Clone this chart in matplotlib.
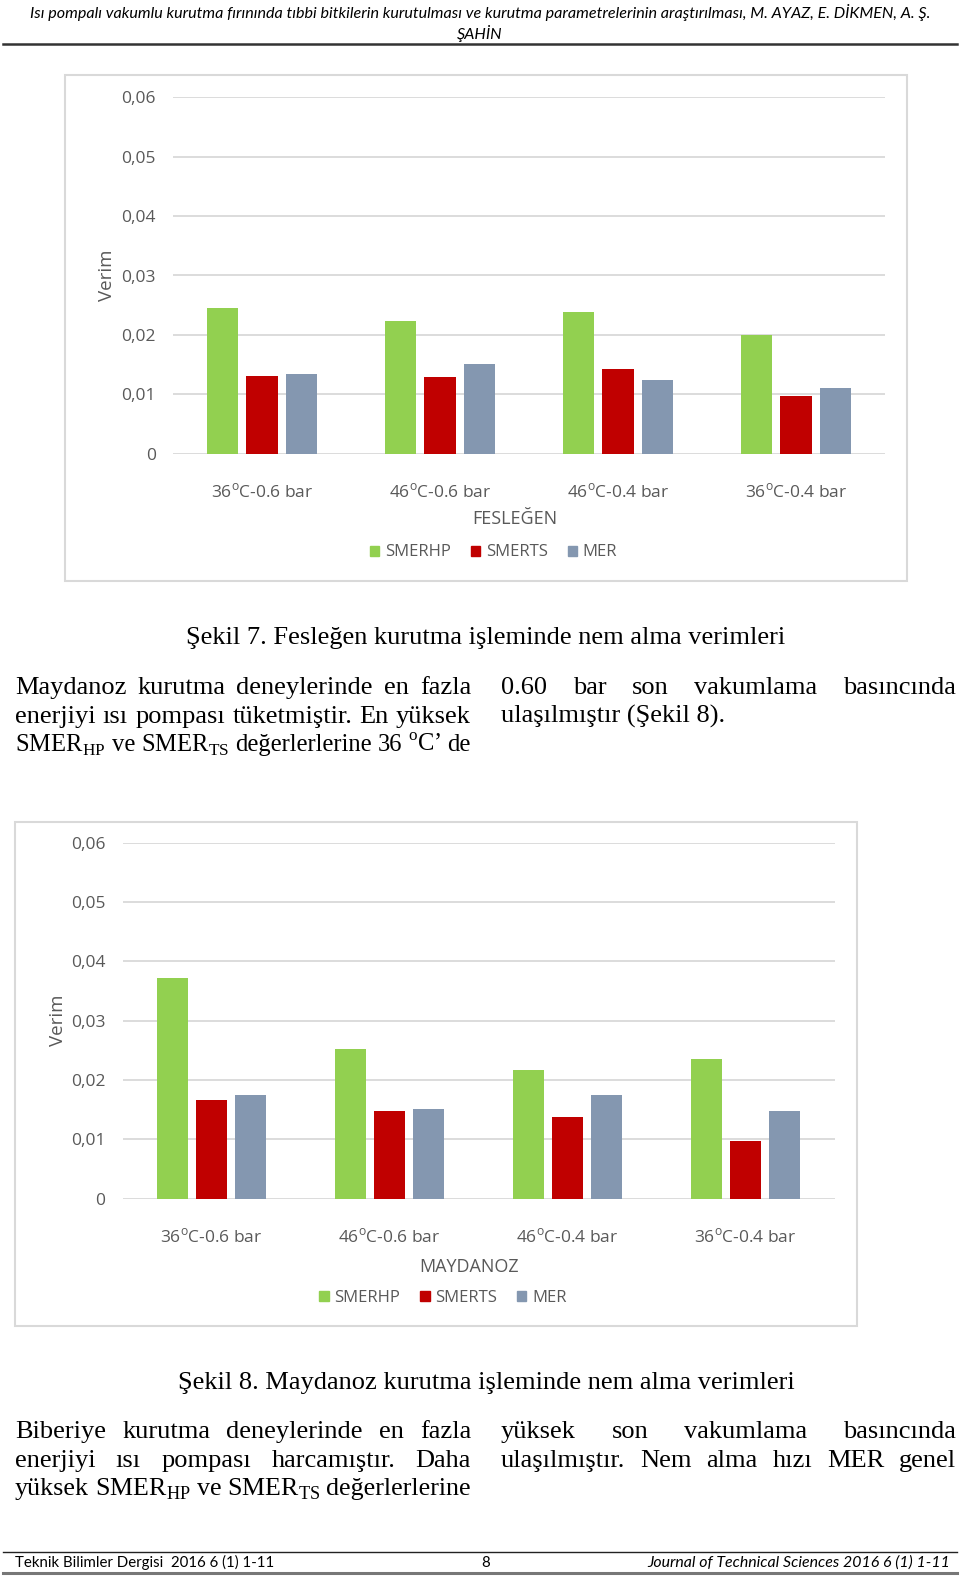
import numpy as np
import matplotlib.pyplot as plt
from matplotlib.patches import Rectangle, Patch

W, H = 960, 1577

categories = ['36$^{\\mathsf{o}}$C-0.6 bar', '46$^{\\mathsf{o}}$C-0.6 bar',
              '46$^{\\mathsf{o}}$C-0.4 bar', '36$^{\\mathsf{o}}$C-0.4 bar']
series = ['SMERHP', 'SMERTS', 'MER']
colors = ['#92d050', '#c00000', '#8497b0']

# Şekil 7 - Fesleğen
feslegen_smerhp = [0.0245, 0.0223, 0.0238, 0.0200]
feslegen_smerts = [0.0130, 0.0129, 0.0143, 0.0097]
feslegen_mer = [0.0134, 0.0150, 0.0124, 0.0110]
# Şekil 8 - Maydanoz
maydanoz_smerhp = [0.0372, 0.0252, 0.0217, 0.0235]
maydanoz_smerts = [0.0167, 0.0147, 0.0138, 0.0097]
maydanoz_mer = [0.0175, 0.0151, 0.0174, 0.0147]

y_ticks = [0, 0.01, 0.02, 0.03, 0.04, 0.05, 0.06]
y_tick_labels = ['0', '0,01', '0,02', '0,03', '0,04', '0,05', '0,06']

plt.rcParams['mathtext.fontset'] = 'custom'
plt.rcParams['mathtext.rm'] = 'Liberation Serif'
plt.rcParams['mathtext.sf'] = 'Open Sans'

fig = plt.figure(figsize=(W / 100, H / 100), dpi=100)

def fx(x):
    return x / W

def fy(y):
    return 1 - y / H

def justify(words, x0, x1, y, min_gap=5, **kw):
    texts = [fig.text(fx(x0), fy(y), w, va='baseline', **kw) for w in words]
    r = fig.canvas.get_renderer()
    size = kw.get('fontsize', 12)
    while True:
        widths = [t.get_window_extent(r).width for t in texts]
        gap = (x1 - x0 - sum(widths)) / max(len(words) - 1, 1)
        if gap >= min_gap or size < 8:
            break
        size -= 0.25
        for t in texts:
            t.set_fontsize(size)
    x = x0
    for t, wd in zip(texts, widths):
        t.set_x(fx(x))
        x += wd + gap

GRAY = '#595959'
CHART_FONT = 'Open Sans'

def draw_chart(left, top, box, values, xlabel, ylab_x, xlab_xy, leg_xy):
    fig.patches.append(Rectangle((fx(box[0]), fy(box[3])), (box[2] - box[0]) / W,
                                 (box[3] - box[1]) / H, transform=fig.transFigure,
                                 fill=False, edgecolor='#d9d9d9', lw=1.5))
    ax = fig.add_axes([fx(left), fy(top + 356), 712 / W, 356 / H])
    x = np.arange(len(categories))
    for i, (vals, name, c) in enumerate(zip(values, series, colors)):
        ax.bar(x + (i - 1) * 0.22, vals, width=0.175, color=c, label=name, zorder=3)
    ax.set_xlim(-0.5, 3.5)
    ax.set_ylim(0, 0.06)
    ax.set_yticks(y_ticks, y_tick_labels)
    ax.set_xticks(x, categories)
    ax.grid(axis='y', color='#d9d9d9', lw=1.3, zorder=0)
    for s in ax.spines.values():
        s.set_visible(False)
    ax.tick_params(length=0, colors=GRAY, labelsize=12.5)
    ax.tick_params(axis='y', pad=12.5)
    ax.tick_params(axis='x', pad=21)
    for lab in ax.get_xticklabels() + ax.get_yticklabels():
        lab.set_fontfamily(CHART_FONT)
    ax.set_ylabel('Verim', fontsize=13.5, color=GRAY, family=CHART_FONT)
    ax.yaxis.set_label_coords(ylab_x, 0.5)
    ax.set_xlabel(xlabel, fontsize=13, color=GRAY, family=CHART_FONT)
    ax.xaxis.set_label_coords(*xlab_xy)
    handles = [Patch(color=c, label=n) for c, n in zip(colors, series)]
    ax.legend(handles=handles, ncol=3, frameon=False, loc='center',
              bbox_to_anchor=leg_xy, handlelength=0.55, handleheight=0.55,
              handletextpad=0.35, columnspacing=1.2,
              prop={'family': CHART_FONT, 'size': 12}, labelcolor=GRAY)
    return ax

draw_chart(173, 97.5, (65.4, 75.4, 907, 581),
           [feslegen_smerhp, feslegen_smerts, feslegen_mer], 'FESLEĞEN',
           -0.0805, (0.48, -0.16), (0.45, -0.278))
draw_chart(122.7, 842.6, (15.1, 821.5, 856.7, 1326.3),
           [maydanoz_smerhp, maydanoz_smerts, maydanoz_mer], 'MAYDANOZ',
           -0.078, (0.486, -0.168), (0.45, -0.278))

# header
hkw = dict(family='Lato', style='italic', fontsize=11.65, ha='center', va='baseline')
fig.text(fx(480), fy(18), 'Isı pompalı vakumlu kurutma fırınında tıbbi bitkilerin kurutulması '
         've kurutma parametrelerinin araştırılması, M. AYAZ, E. DİKMEN, A. Ş.', **hkw)
fig.text(fx(480), fy(38.5), 'ŞAHİN', **hkw)
fig.add_artist(plt.Line2D([fx(3), fx(957)], [fy(43.5), fy(43.5)], color='#333333', lw=1.8))

# captions and body text
serif = dict(family='Liberation Serif', fontsize=19, color='black')
fig.text(fx(486), fy(644), 'Şekil 7. Fesleğen kurutma işleminde nem alma verimleri',
         ha='center', va='baseline', **serif)
fig.text(fx(486), fy(1389), 'Şekil 8. Maydanoz kurutma işleminde nem alma verimleri',
         ha='center', va='baseline', **serif)

body1_left = ['Maydanoz kurutma deneylerinde en fazla',
              'enerjiyi ısı pompası tüketmiştir. En yüksek',
              'SMER$_{\\mathrm{HP}}$ ve SMER$_{\\mathrm{TS}}$ değerlerlerine 36 $^{\\mathrm{o}}$C’ de']
body1_right = ['0.60 bar son vakumlama basıncında']
body1_right_last = 'ulaşılmıştır (Şekil 8).'
body2_left = ['Biberiye kurutma deneylerinde en fazla',
              'enerjiyi ısı pompası harcamıştır. Daha',
              'yüksek SMER$_{\\mathrm{HP}}$ ve SMER$_{\\mathrm{TS}}$ değerlerlerine']
body2_right = ['yüksek son vakumlama basıncında',
               'ulaşılmıştır. Nem alma hızı MER genel']

for i, line in enumerate(body1_left):
    justify(line.split(' '), 15, 471, 694 + 28.7 * i, **serif)
for i, line in enumerate(body1_right):
    justify(line.split(' '), 501, 956, 694 + 28.7 * i, **serif)
fig.text(fx(501), fy(722.7), body1_right_last, va='baseline', **serif)
for i, line in enumerate(body2_left):
    justify(line.split(' '), 15, 471, 1438 + 28.7 * i, **serif)
for i, line in enumerate(body2_right):
    justify(line.split(' '), 501, 956, 1438 + 28.7 * i, **serif)

# footer
fig.add_artist(plt.Line2D([fx(3), fx(957)], [fy(1551.5), fy(1551.5)], color='#222222', lw=1.0))
fig.add_artist(plt.Line2D([fx(3), fx(957)], [fy(1573), fy(1573)], color='#777777', lw=2.2))
fkw = dict(family='Lato', fontsize=10.8, va='baseline', color='black')
fig.text(fx(15), fy(1567), 'Teknik Bilimler Dergisi  2016 6 (1) 1-11', ha='left', **fkw)
fig.text(fx(486), fy(1567), '8', ha='center', **fkw)
fig.text(fx(950), fy(1567), 'Journal of Technical Sciences 2016 6 (1) 1-11', ha='right',
         style='italic', **{**fkw, 'fontsize': 11.4})

plt.savefig('out.png', dpi=100)
